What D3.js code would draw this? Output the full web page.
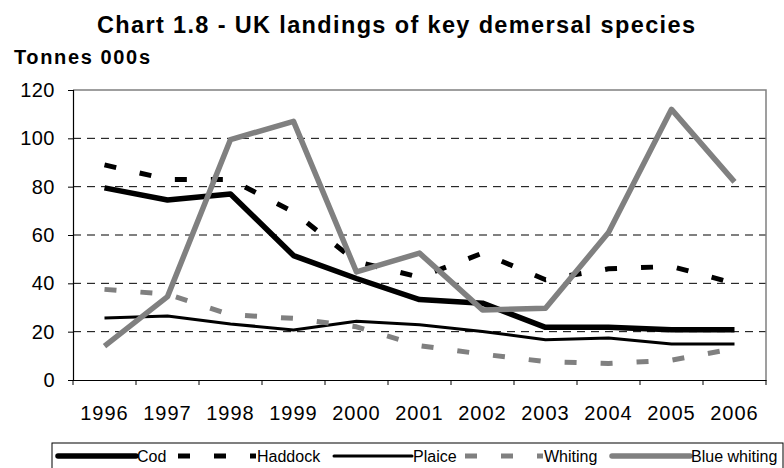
<!DOCTYPE html>
<meta charset="utf-8">
<script src="https://cdn.jsdelivr.net/npm/d3@7"></script>
<style>
  body { margin: 0; background: #fff; font-family: "Liberation Sans", Arial, sans-serif; }
  svg { display: block; }
</style>
<div id="chart"></div>
<script>
var years = ["1996","1997","1998","1999","2000","2001","2002","2003","2004","2005","2006"];
var cod = [79.5, 74.5, 77, 51.5, 42, 33.3, 31.8, 21.8, 21.8, 20.8, 20.8];
var haddock = [89, 83, 83, 69.5, 49, 42.5, 52.5, 41.5, 46, 47, 40];
var plaice = [25.7, 26.5, 23.2, 20.7, 24.3, 22.9, 20.1, 16.7, 17.4, 14.9, 14.9];
var whiting = [37.5, 35.5, 27, 25.5, 22, 14.2, 10.7, 7.6, 6.8, 8.2, 13];
var blueWhiting = [14, 34.5, 99.5, 107, 44.7, 52.5, 29, 29.7, 61, 112, 82];
var yTicks = [0, 20, 40, 60, 80, 100, 120];

var series = [
  {name: "Cod", values: cod, color: "#000", width: 5.5, dash: null},
  {name: "Haddock", values: haddock, color: "#000", width: 5, dash: "12,24"},
  {name: "Plaice", values: plaice, color: "#000", width: 3, dash: null},
  {name: "Whiting", values: whiting, color: "#808080", width: 5, dash: "12,24"},
  {name: "Blue whiting", values: blueWhiting, color: "#808080", width: 5.5, dash: null}
];

var W = 784, H = 468;
var svg = d3.select("#chart").append("svg").attr("width", W).attr("height", H);

var x = d3.scaleBand().domain(years).range([73, 766]).paddingInner(0).paddingOuter(0);
var y = d3.scaleLinear().domain([0, 120]).range([380, 90]);

// title
svg.append("text")
  .attr("x", 97).attr("y", 33)
  .attr("textLength", 598).attr("lengthAdjust", "spacing")
  .style("font-weight", "bold").style("font-size", "23.5px")
  .text("Chart 1.8 - UK landings of key demersal species");

svg.append("text")
  .attr("x", 14).attr("y", 64)
  .attr("textLength", 136).attr("lengthAdjust", "spacing")
  .style("font-weight", "bold").style("font-size", "20px")
  .text("Tonnes 000s");

// gridlines
svg.selectAll(".grid")
  .data(yTicks.filter(function(d){ return d > 0 && d < 120; }))
  .enter().append("line")
    .attr("x1", 73).attr("x2", 766)
    .attr("y1", function(d){ return y(d); }).attr("y2", function(d){ return y(d); })
    .attr("stroke", "#000").attr("stroke-width", 1)
    .attr("stroke-dasharray", "8,6");

// plot border top/right
svg.append("path")
  .attr("d", "M73," + y(120) + "H766V" + y(0))
  .attr("fill", "none").attr("stroke", "#808080").attr("stroke-width", 1.5);

// y axis
var yAxis = d3.axisLeft(y).tickValues(yTicks).tickSize(5).tickPadding(13);
var gy = svg.append("g").attr("transform", "translate(73,0)").call(yAxis);
gy.select(".domain").attr("stroke", "#000").attr("stroke-width", 1.2);
gy.selectAll(".tick line").attr("stroke", "#000");
gy.selectAll("text").style("font-size", "20px").style("letter-spacing", "0.5px")
  .style("font-family", "'Liberation Sans', Arial, sans-serif").attr("fill", "#000");

// x axis
var xAxis = d3.axisBottom(x).tickSize(0).tickPadding(26);
var gx = svg.append("g").attr("transform", "translate(0," + y(0) + ")").call(xAxis);
gx.select(".domain").attr("stroke", "#000").attr("stroke-width", 1.2);
gx.selectAll("text").style("font-size", "20px").style("letter-spacing", "1px")
  .style("font-family", "'Liberation Sans', Arial, sans-serif").attr("fill", "#000");
gx.selectAll(".bound")
  .data(years.concat(["end"]))
  .enter().append("line")
    .attr("x1", function(d, i){ return i < years.length ? x(d) : x.range()[1]; })
    .attr("x2", function(d, i){ return i < years.length ? x(d) : x.range()[1]; })
    .attr("y1", 0).attr("y2", 5)
    .attr("stroke", "#000");

// lines
var line = d3.line()
  .x(function(d, i){ return x(years[i]) + x.bandwidth() / 2; })
  .y(function(d){ return y(d); });

svg.selectAll(".series")
  .data(series)
  .enter().append("path")
    .attr("d", function(s){ return line(s.values); })
    .attr("fill", "none")
    .attr("stroke", function(s){ return s.color; })
    .attr("stroke-width", function(s){ return s.width; })
    .attr("stroke-dasharray", function(s){ return s.dash; })
    .attr("stroke-linejoin", "round");

// legend
svg.append("rect")
  .attr("x", 52).attr("y", 443).attr("width", 731).attr("height", 40)
  .attr("fill", "#fff").attr("stroke", "#000").attr("stroke-width", 1);

var legendX = [58, 178, 334, 465, 612];
var lg = svg.selectAll(".leg")
  .data(series)
  .enter().append("g")
    .attr("transform", function(s, i){ return "translate(" + legendX[i] + ",456)"; });
lg.append("line")
  .attr("x1", 0).attr("x2", 78).attr("y1", 0).attr("y2", 0)
  .attr("stroke", function(s){ return s.color; })
  .attr("stroke-width", function(s){ return s.width; })
  .attr("stroke-dasharray", function(s){ return s.dash; })
  .attr("stroke-linecap", function(s){ return s.dash ? "butt" : "round"; });
lg.append("text")
  .attr("x", 79).attr("y", 6)
  .style("font-size", "16px")
  .text(function(s){ return s.name; });
</script>
